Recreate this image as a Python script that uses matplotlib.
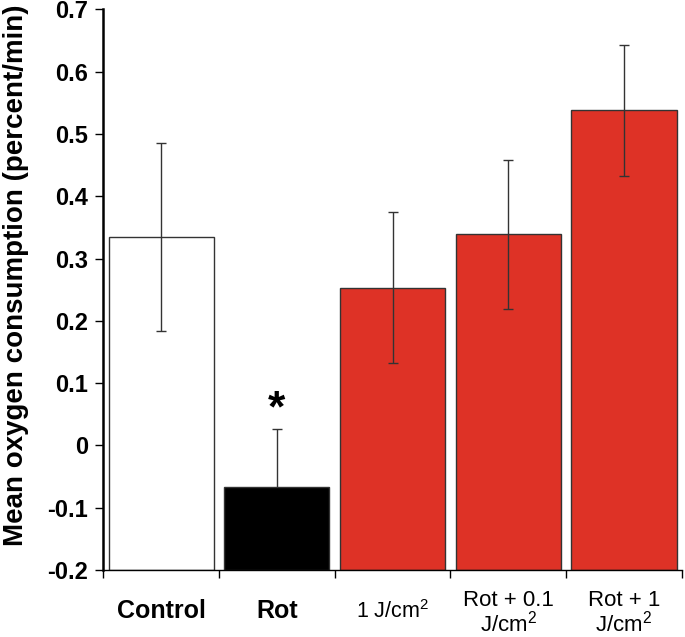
import matplotlib
matplotlib.use('Agg')
import matplotlib.pyplot as plt
import numpy as np

plt.rcParams['font.family'] = ['Liberation Sans', 'DejaVu Sans']
plt.rcParams['mathtext.default'] = 'regular'
plt.rcParams['axes.unicode_minus'] = False

# data
groups = ['Control', 'Rot', '1 J/cm$^{2}$', 'Rot + 0.1\nJ/cm$^{2}$', 'Rot + 1\nJ/cm$^{2}$']
means = [0.335, -0.067, 0.253, 0.339, 0.538]
errs = [0.151, 0.094, 0.121, 0.120, 0.105]
fills = ['white', 'black', '#de3226', '#de3226', '#de3226']
yticks = [-0.2, -0.1, 0, 0.1, 0.2, 0.3, 0.4, 0.5, 0.6, 0.7]
ytick_labels = ['-0.2', '-0.1', '0', '0.1', '0.2', '0.3', '0.4', '0.5', '0.6', '0.7']
base = -0.2

fig = plt.figure(figsize=(6.85, 6.37), dpi=100)
ax = fig.add_axes([0.1508, 0.1052, 0.8445, 0.880])

x = np.arange(len(groups))
heights = [m - base for m in means]
ax.bar(x, heights, bottom=base, width=0.91, color=fills,
       edgecolor='#333333', linewidth=1.0, zorder=2)

# error bars: in front of the light bars, behind the black one
for i in range(len(groups)):
    z = 1 if fills[i] == 'black' else 3
    ax.errorbar(x[i], means[i], yerr=errs[i], fmt='none', ecolor='#333333',
                elinewidth=1.0, capsize=3.5, capthick=1.0, zorder=z)

# significance marker above Rot
ax.text(1, 0.057, '*', ha='center', va='center', fontsize=32,
        fontweight='bold', zorder=4)

ax.set_xlim(-0.5, len(groups) - 0.5)
ax.set_ylim(-0.2, 0.7)

ax.set_yticks(yticks)
ax.set_yticklabels(ytick_labels, fontsize=17, fontweight='bold')
ax.tick_params(axis='y', direction='out', length=6, width=1.0, pad=5)

# ticks on the category boundaries, labels written under each bar
ax.set_xticks(np.arange(-0.5, len(groups), 1.0))
ax.set_xticklabels([])
ax.tick_params(axis='x', direction='out', length=6, width=1.0)

trans = ax.get_xaxis_transform()
for i, g in enumerate(groups):
    if i < 2:
        ax.text(x[i], -0.073, g, transform=trans, ha='center', va='center',
                fontsize=18, fontweight='bold')
    elif i == 2:
        ax.text(x[i], -0.074, g, transform=trans, ha='center', va='center',
                fontsize=15.5)
    else:
        ax.text(x[i], -0.077, g, transform=trans, ha='center', va='center',
                fontsize=16, linespacing=1.0, multialignment='center')

ax.set_ylabel('Mean oxygen consumption (percent/min)', fontsize=20,
              fontweight='bold')
ax.yaxis.set_label_coords(-0.128, 0.526)

ax.spines['top'].set_visible(False)
ax.spines['right'].set_visible(False)
ax.spines['left'].set_linewidth(1.8)
ax.spines['bottom'].set_linewidth(1.0)

plt.savefig('out.png', dpi=100)
